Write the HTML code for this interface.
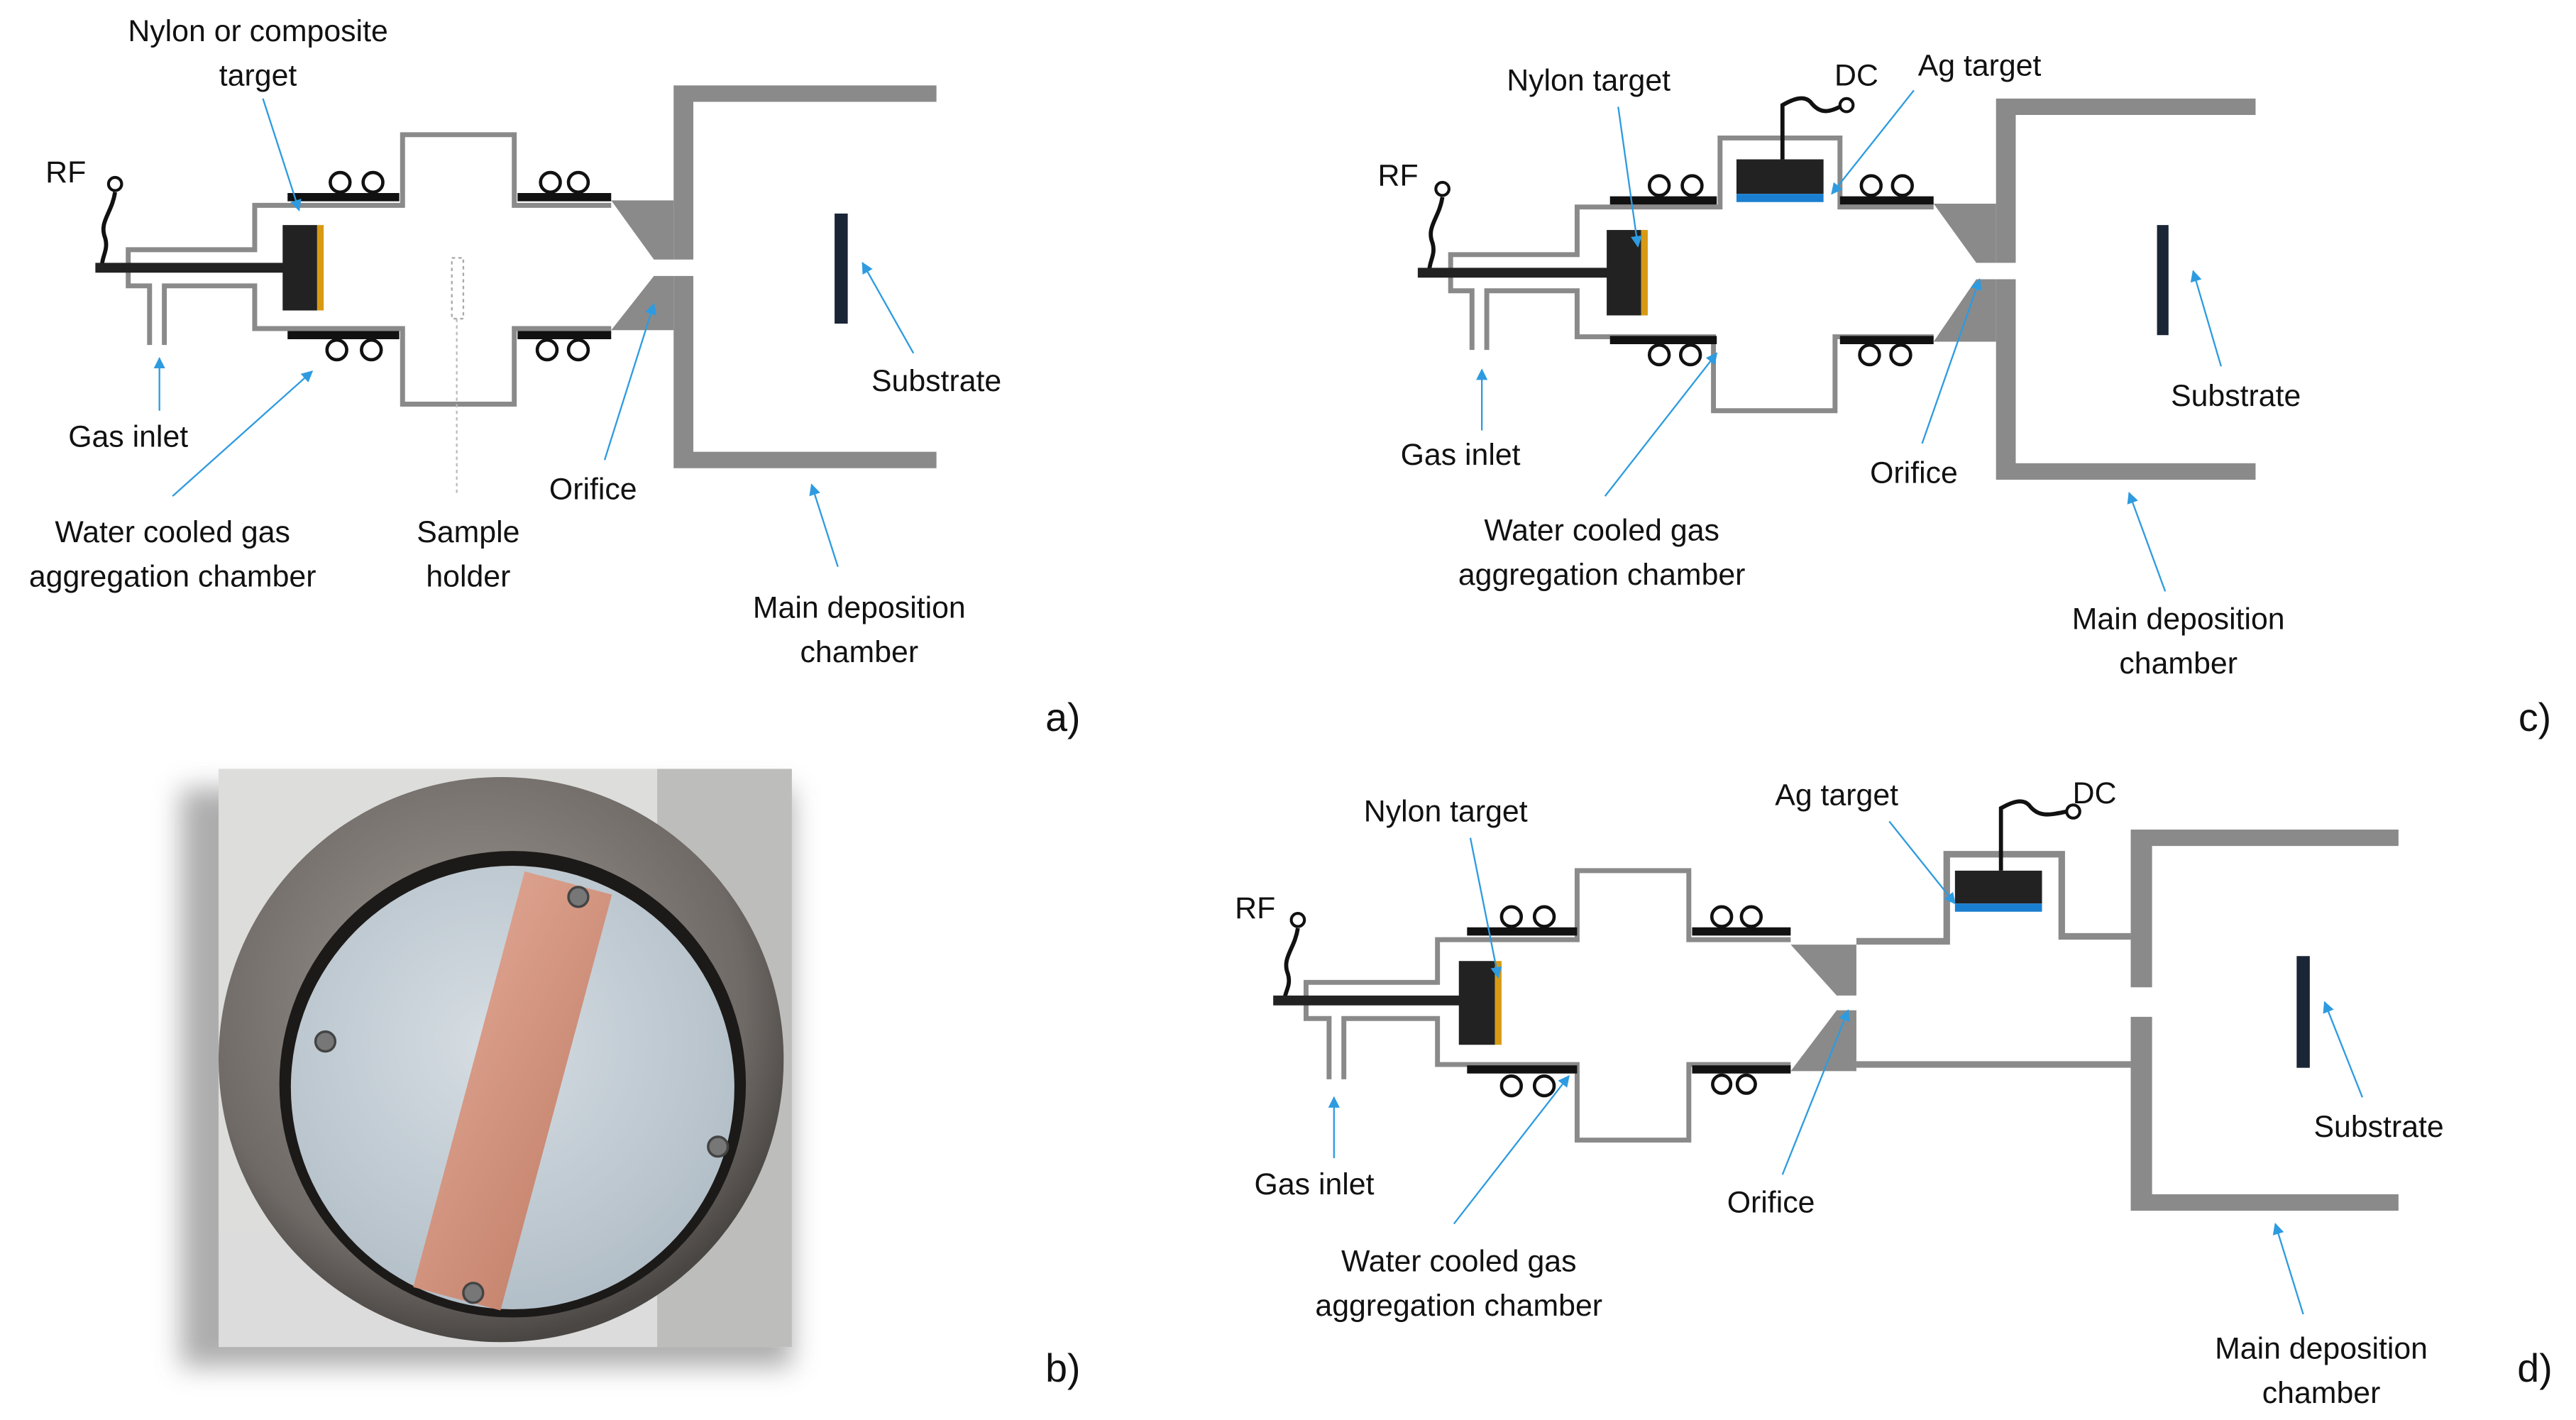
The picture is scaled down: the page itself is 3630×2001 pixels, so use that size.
<!DOCTYPE html>
<html><head><meta charset="utf-8"><style>
html,body{margin:0;padding:0;background:#fff;}
svg{display:block;}
text{font-family:"Liberation Sans",sans-serif;font-size:18.5px;fill:#111;text-anchor:middle;}
</style></head><body>
<svg width="3630" height="2001" viewBox="0 0 1568 864.4" xmlns="http://www.w3.org/2000/svg">
<defs>
<marker id="ah" viewBox="0 0 10 10" refX="9" refY="5" markerWidth="7" markerHeight="7" orient="auto-start-reverse"><path d="M0,0L10,5L0,10z" fill="#2e9be0"/></marker>
<radialGradient id="metal" cx="45%" cy="40%" r="60%"><stop offset="0" stop-color="#a09a94"/><stop offset="0.8" stop-color="#6f6a66"/><stop offset="1" stop-color="#4a4643"/></radialGradient>
<radialGradient id="disk" cx="45%" cy="40%" r="60%"><stop offset="0" stop-color="#d6dde3"/><stop offset="1" stop-color="#b3bfc8"/></radialGradient>
<linearGradient id="cu" x1="0" y1="0" x2="1" y2="1"><stop offset="0" stop-color="#dba08c"/><stop offset="1" stop-color="#c78670"/></linearGradient>
<filter id="sh" x="-20%" y="-20%" width="140%" height="140%"><feGaussianBlur stdDeviation="8"/></filter>
<clipPath id="pc"><rect x="133" y="468" width="349" height="352"/></clipPath>
</defs>
<g fill="none" stroke-linecap="butt">

<!-- ===== Panel a ===== -->
<g>
<path d="M70,117 C68,130 60,135 64,145 C66,152 62,156 62,162" stroke="#111" stroke-width="2.5"/>
<circle cx="70" cy="112" r="4" stroke="#111" stroke-width="1.8" fill="#fff"/>
<path d="M100,210 V174 H155 V200 H245 V246 H313 V200 H372" stroke="#8a8a8a" stroke-width="3"/>
<path d="M91,210 V174 H78 V152 H155 V125 H245 V82 H313 V125 H372" stroke="#8a8a8a" stroke-width="3"/>
<line x1="58" y1="163" x2="175" y2="163" stroke="#222" stroke-width="6"/>
<rect x="172" y="137" width="21" height="52" fill="#222"/>
<rect x="193" y="137" width="4" height="52" fill="#d89a14"/>
<line x1="175" y1="120" x2="243" y2="120" stroke="#111" stroke-width="5"/>
<line x1="175" y1="204" x2="243" y2="204" stroke="#111" stroke-width="5"/>
<line x1="315" y1="120" x2="372" y2="120" stroke="#111" stroke-width="5"/>
<line x1="315" y1="204" x2="372" y2="204" stroke="#111" stroke-width="5"/>
<g stroke="#111" stroke-width="2" fill="#fff">
<circle cx="207" cy="111" r="6"/><circle cx="227" cy="111" r="6"/>
<circle cx="205" cy="213" r="6"/><circle cx="226" cy="213" r="6"/>
<circle cx="335" cy="111" r="6"/><circle cx="352" cy="111" r="6"/>
<circle cx="333" cy="213" r="6"/><circle cx="352" cy="213" r="6"/>
</g>
<rect x="275" y="157" width="7" height="37" stroke="#aaa" stroke-width="1" stroke-dasharray="2,2"/>
<line x1="278" y1="194" x2="278" y2="302" stroke="#bbb" stroke-width="1" stroke-dasharray="2,2"/>
<path d="M372,122 H410 V158 H398 Z M398,168 H410 V201 H372 Z" fill="#8a8a8a"/>
<path d="M410,52 H570 V62 H422 V158 H410 Z M410,168 H422 V275 H570 V285 H410 Z" fill="#8a8a8a"/>
<rect x="508" y="130" width="8" height="67" fill="#1a2535"/>
<g stroke="#2e9be0" stroke-width="1" marker-end="url(#ah)">
<line x1="160" y1="60" x2="182" y2="128"/>
<line x1="97" y1="250" x2="97" y2="218"/>
<line x1="105" y1="302" x2="190" y2="226"/>
<line x1="368" y1="280" x2="398" y2="185"/>
<line x1="556" y1="215" x2="525" y2="160"/>
<line x1="510" y1="345" x2="494" y2="295"/>
</g>
</g>

<!-- ===== Panel c ===== -->
<g>
<path d="M878,120 C876,133 868,138 872,148 C874,155 870,159 870,165" stroke="#111" stroke-width="2.5"/>
<circle cx="878" cy="115" r="4" stroke="#111" stroke-width="1.8" fill="#fff"/>
<path d="M905,213 V177 H960 V205 H1043 V250 H1117 V205 H1177" stroke="#8a8a8a" stroke-width="3"/>
<path d="M896,213 V177 H883 V155 H960 V126 H1047 V84 H1120 V126 H1177" stroke="#8a8a8a" stroke-width="3"/>
<line x1="863" y1="166" x2="980" y2="166" stroke="#222" stroke-width="6"/>
<rect x="978" y="140" width="21" height="52" fill="#222"/>
<rect x="999" y="140" width="4" height="52" fill="#d89a14"/>
<rect x="1057" y="97" width="53" height="21" fill="#222"/>
<rect x="1057" y="118" width="53" height="5" fill="#1a7fd0"/>
<path d="M1085,97 V64 C1092,60 1098,58 1102,62 C1108,70 1114,68 1120,65" stroke="#111" stroke-width="2.5"/>
<circle cx="1124" cy="64" r="4" stroke="#111" stroke-width="1.8" fill="#fff"/>
<line x1="980" y1="122" x2="1045" y2="122" stroke="#111" stroke-width="5"/>
<line x1="980" y1="207" x2="1045" y2="207" stroke="#111" stroke-width="5"/>
<line x1="1120" y1="122" x2="1177" y2="122" stroke="#111" stroke-width="5"/>
<line x1="1120" y1="207" x2="1177" y2="207" stroke="#111" stroke-width="5"/>
<g stroke="#111" stroke-width="2" fill="#fff">
<circle cx="1010" cy="113" r="6"/><circle cx="1030" cy="113" r="6"/>
<circle cx="1010" cy="216" r="6"/><circle cx="1029" cy="216" r="6"/>
<circle cx="1139" cy="113" r="6"/><circle cx="1158" cy="113" r="6"/>
<circle cx="1138" cy="216" r="6"/><circle cx="1157" cy="216" r="6"/>
</g>
<path d="M1177,124 H1215 V160 H1203 Z M1203,170 H1215 V208 H1177 Z" fill="#8a8a8a"/>
<path d="M1215,60 H1373 V70 H1227 V160 H1215 Z M1215,170 H1227 V282 H1373 V292 H1215 Z" fill="#8a8a8a"/>
<rect x="1313" y="137" width="7" height="67" fill="#1a2535"/>
<g stroke="#2e9be0" stroke-width="1" marker-end="url(#ah)">
<line x1="985" y1="65" x2="997" y2="150"/>
<line x1="1165" y1="55" x2="1115" y2="118"/>
<line x1="902" y1="262" x2="902" y2="225"/>
<line x1="977" y1="302" x2="1045" y2="215"/>
<line x1="1170" y1="270" x2="1205" y2="170"/>
<line x1="1352" y1="223" x2="1335" y2="165"/>
<line x1="1318" y1="360" x2="1296" y2="300"/>
</g>
</g>

<!-- ===== Panel d ===== -->
<g>
<path d="M790,565 C788,578 780,583 784,593 C786,600 782,604 782,608" stroke="#111" stroke-width="2.5"/>
<circle cx="790" cy="560" r="4" stroke="#111" stroke-width="1.8" fill="#fff"/>
<path d="M818,657 V620 H875 V648 H960 V694 H1028 V648 H1090" stroke="#8a8a8a" stroke-width="3"/>
<path d="M809,657 V620 H795 V598 H875 V572 H960 V530 H1028 V572 H1090" stroke="#8a8a8a" stroke-width="3"/>
<line x1="775" y1="609" x2="890" y2="609" stroke="#222" stroke-width="6"/>
<rect x="888" y="585" width="22" height="51" fill="#222"/>
<rect x="910" y="585" width="4" height="51" fill="#d89a14"/>
<line x1="893" y1="567" x2="960" y2="567" stroke="#111" stroke-width="5"/>
<line x1="893" y1="651" x2="960" y2="651" stroke="#111" stroke-width="5"/>
<line x1="1030" y1="567" x2="1090" y2="567" stroke="#111" stroke-width="5"/>
<line x1="1030" y1="651" x2="1090" y2="651" stroke="#111" stroke-width="5"/>
<g stroke="#111" stroke-width="2" fill="#fff">
<circle cx="920" cy="558" r="6"/><circle cx="940" cy="558" r="6"/>
<circle cx="920" cy="661" r="6"/><circle cx="940" cy="661" r="6"/>
<circle cx="1048" cy="558" r="6"/><circle cx="1066" cy="558" r="6"/>
<circle cx="1048" cy="660" r="5.5"/><circle cx="1063" cy="660" r="5.5"/>
</g>
<path d="M1090,575 H1130 V606 H1118 Z M1118,615 H1130 V652 H1090 Z" fill="#8a8a8a"/>
<path d="M1130,573 H1185 V520 H1255 V570 H1297" stroke="#8a8a8a" stroke-width="4"/>
<line x1="1130" y1="648" x2="1297" y2="648" stroke="#8a8a8a" stroke-width="4"/>
<rect x="1190" y="530" width="53" height="20" fill="#222"/>
<rect x="1190" y="550" width="53" height="5" fill="#1a7fd0"/>
<path d="M1218,530 V492 C1225,488 1231,486 1235,490 C1241,498 1248,496 1258,494" stroke="#111" stroke-width="2.5"/>
<circle cx="1262" cy="494" r="4" stroke="#111" stroke-width="1.8" fill="#fff"/>
<path d="M1297,505 H1460 V515 H1310 V601 H1297 Z M1297,619 H1310 V727 H1460 V737 H1297 Z" fill="#8a8a8a"/>
<rect x="1398" y="582" width="8" height="68" fill="#1a2535"/>
<g stroke="#2e9be0" stroke-width="1" marker-end="url(#ah)">
<line x1="895" y1="510" x2="912" y2="595"/>
<line x1="1150" y1="500" x2="1190" y2="550"/>
<line x1="812" y1="705" x2="812" y2="668"/>
<line x1="885" y1="745" x2="955" y2="655"/>
<line x1="1085" y1="715" x2="1125" y2="615"/>
<line x1="1438" y1="668" x2="1415" y2="610"/>
<line x1="1402" y1="800" x2="1385" y2="745"/>
</g>
</g>

<!-- ===== Panel b photo ===== -->
<rect x="110" y="480" width="372" height="352" fill="#999" filter="url(#sh)" opacity="0.8"/>
<g clip-path="url(#pc)">
<rect x="133" y="468" width="349" height="352" fill="#cfd0d0"/>
<rect x="133" y="468" width="349" height="352" fill="#e6e6e4" opacity="0.6"/>
<rect x="133" y="750" width="349" height="70" fill="#dcdcdc"/>
<rect x="400" y="468" width="82" height="352" fill="#bdbdbb"/>
<circle cx="305" cy="645" r="172" fill="url(#metal)"/>
<circle cx="312" cy="660" r="142" fill="#1c1a18"/>
<circle cx="312" cy="662" r="135" fill="url(#disk)"/>
<g transform="rotate(15 312 662)">
<rect x="285" y="533" width="55" height="262" fill="url(#cu)"/>
</g>
<g fill="#777" stroke="#444" stroke-width="1.5">
<circle cx="352" cy="546" r="6"/><circle cx="198" cy="634" r="6"/>
<circle cx="437" cy="698" r="6"/><circle cx="288" cy="787" r="6"/>
</g>
</g>
</g>

<!-- ===== Labels ===== -->
<text x="40" y="111">RF</text>
<text x="157" y="25">Nylon or composite</text>
<text x="157" y="52">target</text>
<text x="78" y="272">Gas inlet</text>
<text x="105" y="330">Water cooled gas</text>
<text x="105" y="357">aggregation chamber</text>
<text x="285" y="330">Sample</text>
<text x="285" y="357">holder</text>
<text x="361" y="304">Orifice</text>
<text x="570" y="238">Substrate</text>
<text x="523" y="376">Main deposition</text>
<text x="523" y="403">chamber</text>
<text x="647" y="445" style="font-size:24px">a)</text>

<text x="851" y="113">RF</text>
<text x="967" y="55">Nylon target</text>
<text x="1130" y="52">DC</text>
<text x="1205" y="46">Ag target</text>
<text x="889" y="283">Gas inlet</text>
<text x="975" y="329">Water cooled gas</text>
<text x="975" y="356">aggregation chamber</text>
<text x="1165" y="294">Orifice</text>
<text x="1361" y="247">Substrate</text>
<text x="1326" y="383">Main deposition</text>
<text x="1326" y="410">chamber</text>
<text x="1543" y="445" style="font-size:24px">c)</text>

<text x="647" y="841" style="font-size:24px">b)</text>

<text x="764" y="559">RF</text>
<text x="880" y="500">Nylon target</text>
<text x="1118" y="490">Ag target</text>
<text x="1275" y="489">DC</text>
<text x="800" y="727">Gas inlet</text>
<text x="888" y="774">Water cooled gas</text>
<text x="888" y="801">aggregation chamber</text>
<text x="1078" y="738">Orifice</text>
<text x="1448" y="692">Substrate</text>
<text x="1413" y="827">Main deposition</text>
<text x="1413" y="854">chamber</text>
<text x="1543" y="841" style="font-size:24px">d)</text>
</svg>
</body></html>
